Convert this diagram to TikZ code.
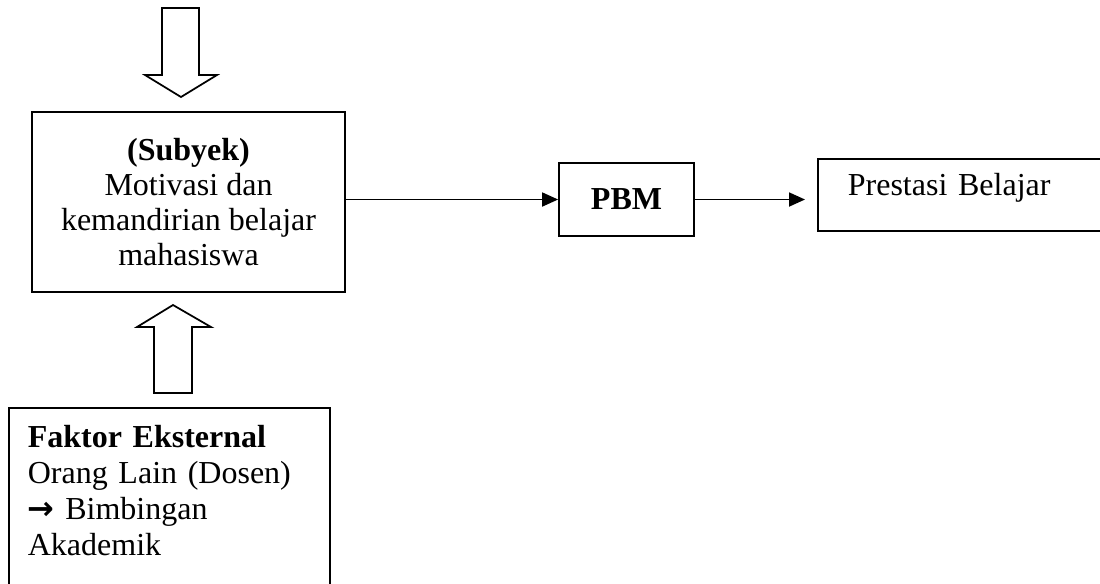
\documentclass[tikz,border=0pt]{standalone}
\usepackage{fontspec}
\setmainfont{Liberation Serif}
\newfontfamily\arrowfont{DejaVu Sans}
\usetikzlibrary{positioning, arrows.meta, calc}

\begin{document}
\begin{tikzpicture}[
    x=0.4pt, y=-0.4pt,
    every node/.style={draw, line width=0.7pt, font=\fontsize{12.8}{14}\selectfont},
    flow/.style={-{Triangle[length=6.4pt, width=5.6pt]}, line width=0.7pt},
    blockarrow/.style={draw, line width=0.7pt, line join=miter}
]
\useasboundingbox (0,0) rectangle (1100,583);

% Subyek
\node (subyek) at (188.5,202) [minimum width=125.2pt, minimum height=72pt, align=center]
  {\textbf{(Subyek)}\\Motivasi dan\\kemandirian belajar\\mahasiswa};

% PBM dan prestasi
\node (pbm) at (626.5,199.5) [minimum width=54pt, minimum height=29.2pt] {\textbf{PBM}};
\node (prestasi) [anchor=north west, text width=100pt, align=left, inner xsep=12pt, inner ysep=0pt,
  text height=14.8pt, text depth=14pt] at (817,158) {Prestasi Belajar};

% Faktor eksternal
\node (faktor) [anchor=north west, text width=113.2pt, align=left, inner xsep=7.6pt, inner ysep=0pt,
  text height=16pt, text depth=61pt, font=\fontsize{12.8}{14.4}\selectfont] at (8,407)
  {\textbf{Faktor Eksternal}\\Orang Lain (Dosen)\\{\arrowfont\bfseries →} Bimbingan\\Akademik};

% Panah blok
\coordinate (intip) at (181,97);
\coordinate (uptip) at (173,305);
\draw[blockarrow] (intip) -- ++(36,-22) -- ++(-18,0) -- ++(0,-67) -- ++(-37,0) -- ++(0,67) -- ++(-17,0) -- cycle;
\draw[blockarrow] (uptip) -- ++(38,22) -- ++(-19,0) -- ++(0,66) -- ++(-38,0) -- ++(0,-66) -- ++(-17,0) -- cycle;

% Panah alur
\draw[flow] (subyek.east |- pbm.west) -- (pbm.west);
\draw[flow, shorten >=4.8pt] (pbm.east) -- (pbm.east -| prestasi.west);

\end{tikzpicture}
\end{document}
